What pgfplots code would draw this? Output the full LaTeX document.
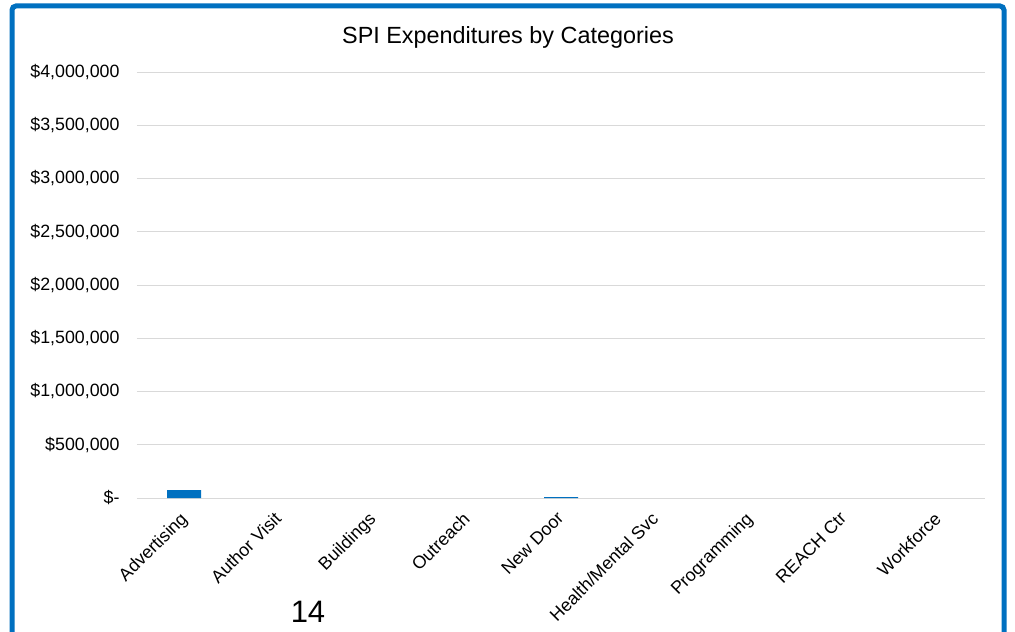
\documentclass[border=0pt]{standalone}
\usepackage{pgfplots}
\pgfplotsset{compat=1.18}
\usepackage{fontspec}
\setmainfont{Liberation Sans}
\definecolor{xlblue}{HTML}{0070C0}
\definecolor{gridgray}{HTML}{D9D9D9}
\begin{document}
\begin{tikzpicture}[x=1pt,y=1pt]
\useasboundingbox (0,0) rectangle (1015,632);
\fill[white] (0,0) rectangle (1015,632);
\begin{scope}
\clip (0,0) rectangle (1015,632);
\draw[xlblue, line width=5pt, rounded corners=4pt] (12,-30) rectangle (1004,626);
\end{scope}
\node[font=\fontsize{23.4}{26}\selectfont] at (508,595) {SPI Expenditures by Categories};
\node[font=\fontsize{31}{34}\selectfont] at (308,20) {14};
\begin{axis}[
  at={(137pt,134pt)}, anchor=south west,
  scale only axis, width=848pt, height=426pt,
  xmin=-0.5, xmax=8.5, ymin=0, ymax=4000000,
  scaled y ticks=false,
  axis line style={draw=none},
  major tick length=0pt,
  ymajorgrids, grid style={gridgray, line width=1pt},
  ytick={0,500000,1000000,1500000,2000000,2500000,3000000,3500000,4000000},
  yticklabels={\$-,{\$500,000},{\$1,000,000},{\$1,500,000},{\$2,000,000},{\$2,500,000},{\$3,000,000},{\$3,500,000},{\$4,000,000}},
  yticklabel style={font=\fontsize{17.8}{20}\selectfont, xshift=-14pt},
  xtick={0,...,8},
  xticklabels={Advertising,Author Visit,Buildings,Outreach,New Door,Health/Mental Svc,Programming,REACH Ctr,Workforce},
  xticklabel style={font=\fontsize{17.8}{20}\selectfont, xshift=-5pt, yshift=-8pt, rotate=45, anchor=north east},
  ybar, bar width=34pt, bar shift=0pt,
  clip=false,
]
\addplot[fill=xlblue, draw=none] coordinates {(0,75000) (4,8000)};
\end{axis}
\end{tikzpicture}
\end{document}
